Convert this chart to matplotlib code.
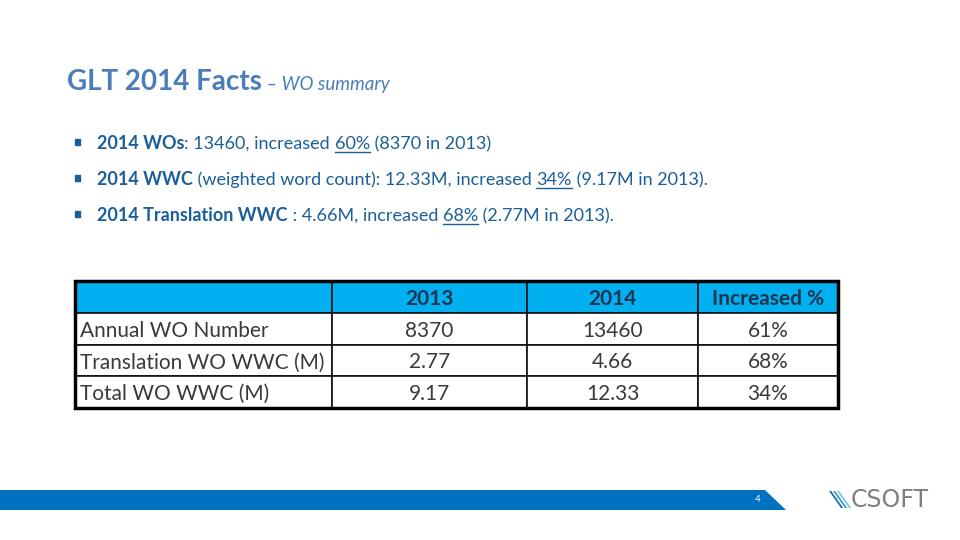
import matplotlib
matplotlib.use("Agg")
import matplotlib.pyplot as plt
from matplotlib.patches import Polygon, Rectangle

# data
title_main = "GLT 2014 Facts"
title_sub = " – WO summary"
bullets = [
    [("2014 WOs", "bold", False), (": 13460, increased ", "normal", False),
     ("60%", "normal", True), (" (8370 in 2013)", "normal", False)],
    [("2014 WWC", "bold", False), (" (weighted word count): 12.33M, increased ", "normal", False),
     ("34%", "normal", True), (" (9.17M in 2013).", "normal", False)],
    [("2014 Translation WWC", "bold", False), (" : 4.66M, increased ", "normal", False),
     ("68%", "normal", True), (" (2.77M in 2013).", "normal", False)],
]
col_labels = ["", "2013", "2014", "Increased %"]
row_labels = ["Annual WO Number", "Translation WO WWC (M)", "Total WO WWC (M)"]
val_2013 = ["8370", "2.77", "9.17"]
val_2014 = ["13460", "4.66", "12.33"]
increase = ["61%", "68%", "34%"]
page_no = "4"

plt.rcParams['font.family'] = ['Lato', 'DejaVu Sans']

W, H = 960, 540
fig = plt.figure(figsize=(9.6, 5.4), dpi=100)
ax = fig.add_axes([0, 0, 1, 1])
ax.set_xlim(0, W)
ax.set_ylim(H, 0)
ax.axis('off')
fig.canvas.draw()
renderer = fig.canvas.get_renderer()


def px_width(t):
    bb = t.get_window_extent(renderer=renderer)
    return bb.width


# title
title_col = '#4A7EBB'
t = ax.text(67, 90, title_main, fontsize=20, fontweight='bold', color=title_col,
            va='baseline', ha='left')
x = 67 + px_width(t)
ax.text(x, 90, title_sub, fontsize=13.5, style='italic', color=title_col,
        va='baseline', ha='left')

# bullets
text_col = '#1A5E9A'
for i, segs in enumerate(bullets):
    y = 149 + 36 * i
    ax.add_patch(Rectangle((75, y - 10), 5, 6, color=text_col))
    x = 97
    for s, w, ul in segs:
        t = ax.text(x, y, s, fontsize=13, fontweight=w, color=text_col,
                    va='baseline', ha='left')
        wdt = px_width(t)
        if ul:
            ax.plot([x, x + wdt], [y + 3, y + 3], color=text_col, lw=1)
        x += wdt

# table
left, top, right, bottom = 75, 281, 838, 408
col_w = [257, 195, 171, 140]
cells = [[row_labels[i], val_2013[i], val_2014[i], increase[i]] for i in range(3)]
tb = ax.table(cellText=cells, colLabels=col_labels, colWidths=[c / W for c in col_w],
              bbox=[left / W, 1 - bottom / H, (right - left) / W, (bottom - top) / H],
              cellLoc='center')
tb.auto_set_font_size(False)
for (r, c), cell in tb.get_celld().items():
    cell.set_edgecolor('#111111')
    cell.set_linewidth(1.2)
    txt = cell.get_text()
    txt.set_fontsize(15)
    txt.set_va('center_baseline')
    if r == 0:
        cell.set_facecolor('#00B0F0')
        txt.set_fontweight('bold')
        txt.set_color('#1F3550')
    else:
        cell.set_facecolor('white')
        txt.set_color('#3A3A3A')
        if c == 0:
            txt.set_ha('left')
            cell.PAD = 0.02
ax.add_patch(Rectangle((left, top), right - left, bottom - top, fill=False,
                       ec='black', lw=2.5, zorder=5))

# footer bar
ax.add_patch(Polygon([(0, 490), (765, 490), (786, 510), (0, 510)], closed=True,
                     color='#0070C0', lw=0))
ax.text(758, 500, page_no, fontsize=7, color='white', ha='center', va='center')

# logo
for k in range(3):
    x0 = 829 + k * 4
    ax.add_patch(Polygon([(x0, 491), (x0 + 2.2, 491), (x0 + 2.2 + 12, 508), (x0 + 12, 508)],
                         closed=True, color=['#1F6FA8', '#3AA0C8', '#7FC8E0'][k], lw=0))
ax.text(851, 500, "CSOFT", fontsize=17, color='#7F7F7F', ha='left', va='center',
        family=['Liberation Sans Narrow', 'DejaVu Sans'])

fig.savefig('out.png', dpi=100)
